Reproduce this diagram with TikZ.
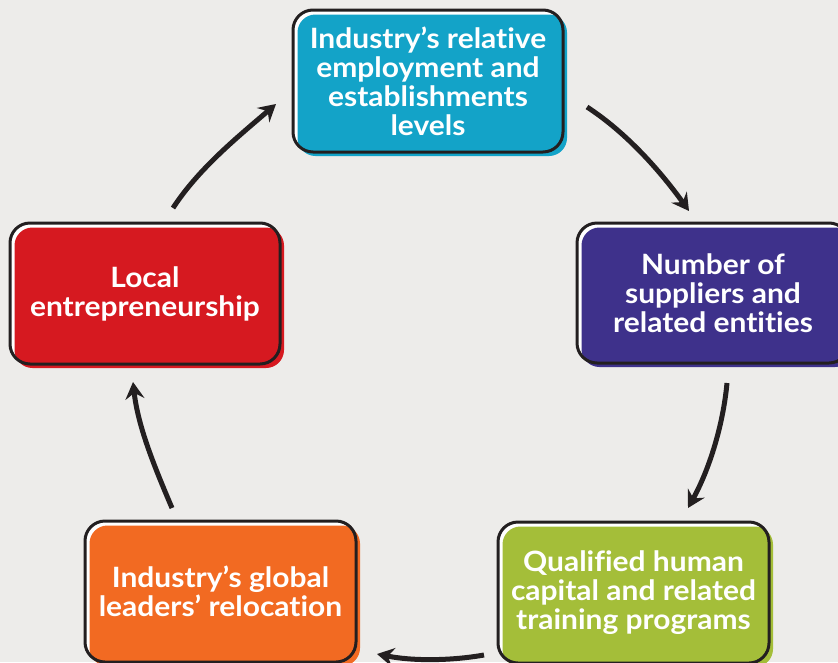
\documentclass[tikz,border=0pt]{standalone}
\usepackage{fontspec}
\setmainfont{Lato}[Ligatures=NoCommon, BoldFeatures={FakeStretch=1.07}]
\usetikzlibrary{arrows.meta,backgrounds}
\definecolor{bgc}{HTML}{EDECEA}
\definecolor{outc}{HTML}{231F20}
\definecolor{cblue}{HTML}{13A3C8}
\definecolor{cpurple}{HTML}{3E318B}
\definecolor{cred}{HTML}{D61920}
\definecolor{cgreen}{HTML}{A4BE39}
\definecolor{corange}{HTML}{F26A22}
\tikzset{
  cyclebox/.style={draw=outc, line width=3pt, rounded corners=20pt, outer sep=0pt,
    inner sep=0pt, align=center, text=white,
    font=\bfseries\fontsize{28}{29}\selectfont},
  flow/.style={draw=outc, line width=5pt,
    -{Stealth[length=17pt,width=19pt,inset=6pt]}},
}
\newcommand\boxback[2]{%
  \begin{scope}[on background layer]
    \fill[white, rounded corners=20pt] (#1.north west) rectangle (#1.south east);
    \fill[#2, rounded corners=18pt] ([shift={(4.5pt,-4.5pt)}]#1.north west)
      rectangle ([shift={(4pt,-4pt)}]#1.south east);
  \end{scope}}
\begin{document}
\begin{tikzpicture}[x=1pt,y=1pt]
\begin{scope}[on background layer]
  \fill[bgc] (0,0) rectangle (838,-662);
\end{scope}
\useasboundingbox (0,0) rectangle (838,-662);

\node[cyclebox, minimum width=270pt, minimum height=142pt] (t) at (428,-81)
  {Industry’s relative\\employment and\\establishments\\levels};
\node[cyclebox, minimum width=272pt, minimum height=140pt] (p) at (713,-293)
  {Number of\\suppliers and\\related entities};
\node[cyclebox, minimum width=271pt, minimum height=141pt] (g) at (633.5,-592.5)
  {Qualified human\\capital and related\\training programs};
\node[cyclebox, minimum width=271pt, minimum height=141pt] (o) at (220.5,-591.5)
  {Industry’s global\\leaders’ relocation};
\node[cyclebox, minimum width=270pt, minimum height=141pt] (r) at (145,-293.5)
  {Local\\entrepreneurship};

\boxback{t}{cblue}
\boxback{p}{cpurple}
\boxback{g}{cgreen}
\boxback{o}{corange}
\boxback{r}{cred}

\coordinate (a1s) at (587,-107); \coordinate (a1e) at (689,-211);
\coordinate (a2s) at (727,-383); \coordinate (a2e) at (688,-508);
\coordinate (a3s) at (484,-655); \coordinate (a3e) at (377,-654);
\coordinate (a4s) at (172,-508); \coordinate (a4e) at (133,-382);
\coordinate (a5s) at (173,-208); \coordinate (a5e) at (276,-104);

\draw[flow] (a1s) .. controls (627,-133) and (661,-172) .. (a1e);
\draw[flow] (a2s) .. controls (723,-426) and (709,-470) .. (a2e);
\draw[flow] (a3s) .. controls (450,-661) and (412,-661) .. (a3e);
\draw[flow] (a4s) .. controls (155,-468) and (138,-427) .. (a4e);
\draw[flow] (a5s) .. controls (199,-168) and (239,-136) .. (a5e);
\end{tikzpicture}
\end{document}
